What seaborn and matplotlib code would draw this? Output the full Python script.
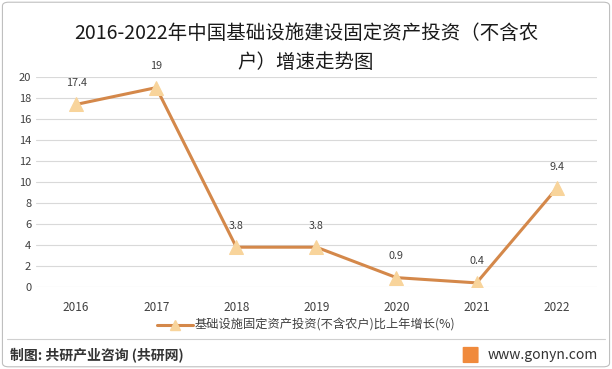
import pandas as pd
import matplotlib.pyplot as plt
import seaborn as sns
from matplotlib.patches import FancyBboxPatch
from matplotlib.lines import Line2D

# --- Data ---
years = ["2016", "2017", "2018", "2019", "2020", "2021", "2022"]
growth = [17.4, 19, 3.8, 3.8, 0.9, 0.4, 9.4]
series_name = "基础设施固定资产投资(不含农户)比上年增长(%)"

df = pd.DataFrame({"year": years, "growth": growth})

sns.set_theme(style="white")
plt.rcParams['font.family'] = ['Noto Sans CJK SC', 'DejaVu Sans']

line_color = "#D4884A"
marker_color = "#F8D49B"

fig = plt.figure(figsize=(6.12, 3.69), dpi=100)
ax = fig.add_axes([0.059, 0.222, 0.916, 0.569])

sns.lineplot(data=df, x="year", y="growth", ax=ax, color=line_color, linewidth=2.2,
             marker="^", markersize=10, markerfacecolor=marker_color,
             markeredgecolor=marker_color, sort=False)

for i, v in enumerate(growth):
    ax.annotate(f"{v:g}", (i, v), xytext=(0, 12), textcoords="offset points",
                ha="center", va="bottom", fontsize=7.8, color="#404040")

ax.set_ylim(0, 20)
ax.set_yticks(range(0, 21, 2))
ax.set_xlim(-0.5, 6.5)
ax.set_xlabel("")
ax.set_ylabel("")
ax.grid(axis="y", color="#D9D9D9", linewidth=0.8)
ax.set_axisbelow(True)
for s in ax.spines.values():
    s.set_visible(False)
ax.tick_params(axis="both", length=0, labelsize=8, colors="#404040")
ax.tick_params(axis="x", pad=10, labelsize=8.5)

# Title
fig.text(0.5, 0.91, "2016-2022年中国基础设施建设固定资产投资（不含农", ha="center", va="center",
         fontsize=14, color="#1a1a1a")
fig.text(0.5, 0.83, "户）增速走势图", ha="center", va="center",
         fontsize=14, color="#1a1a1a")

# Legend
handle = Line2D([], [], color=line_color, linewidth=2.2, marker="^", markersize=7,
                markerfacecolor=marker_color, markeredgecolor=marker_color)
fig.legend([handle], [series_name], loc="center", bbox_to_anchor=(0.5, 0.118),
           frameon=False, fontsize=8.8, handlelength=3.0, handletextpad=0.1,
           labelcolor="#404040")

# Separator and footer
fig.add_artist(Line2D([0.012, 0.988], [0.081, 0.081], color="#D0D0D0", linewidth=0.8))
fig.text(0.016, 0.038, "制图: 共研产业咨询 (共研网)", ha="left", va="center",
         fontsize=10, fontweight="bold", color="#333333")
fig.text(0.977, 0.038, "www.gonyn.com", ha="right", va="center",
         fontsize=10, color="#333333")
fig.add_artist(FancyBboxPatch((0.758, 0.018), 0.022, 0.04, boxstyle="round,pad=0.002",
                              facecolor="#F08A3C", edgecolor="none", transform=fig.transFigure))

# Outer border
fig.add_artist(FancyBboxPatch((0.004, 0.006), 0.992, 0.988, boxstyle="round,pad=0,rounding_size=0.01",
                              facecolor="none", edgecolor="#BFBFBF", linewidth=0.8,
                              transform=fig.transFigure))

fig.savefig("out.png", dpi=100)
